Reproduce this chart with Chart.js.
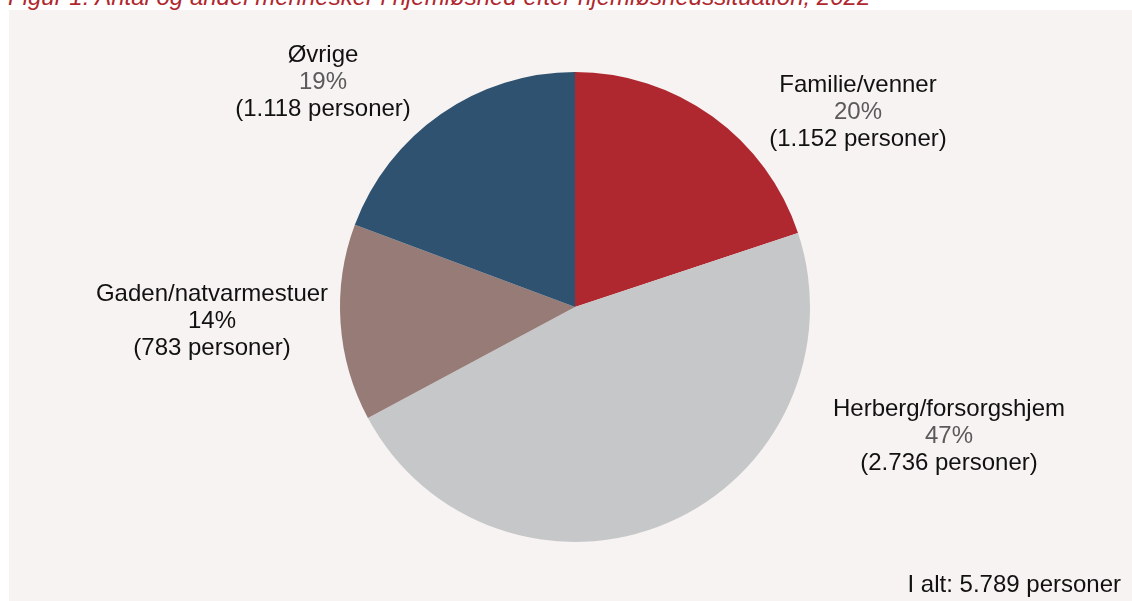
<!DOCTYPE html>
<html lang="da">
<head>
<meta charset="utf-8">
<script src="https://cdn.jsdelivr.net/npm/chart.js@4"></script>
<style>
  html, body { margin: 0; padding: 0; background: #ffffff; }
  body { width: 1132px; height: 601px; position: relative; overflow: hidden; font-family: "Liberation Sans", Arial, sans-serif; }
  .titel { position: absolute; left: 8px; top: -17px; font-size: 24px; font-style: italic; color: #b0282f; white-space: nowrap; }
  .panel { position: absolute; left: 9px; top: 10px; right: 0; bottom: 0; background: #f7f3f2; }
  #grafikCirkel { position: absolute; left: 0; top: 0; }
</style>
</head>
<body>
<div class="titel">Figur 1. Antal og andel mennesker i hjemløshed efter hjemløshedssituation, 2022</div>
<div class="panel"></div>
<canvas id="grafikCirkel" width="1132" height="601"></canvas>
<script>
// data
const kategorier = ['Familie/venner', 'Herberg/forsorgshjem', 'Gaden/natvarmestuer', 'Øvrige'];
const personer = [1152, 2736, 783, 1118];

// farver og placering af etiketter (forskydning fra centrum, i px)
const farver = ['#b0282f', '#c6c7c9', '#967b76', '#2e5270'];
const procentFarve = ['#5a5a5a', '#5a5a5a', '#111111', '#5a5a5a'];
const etiketForskydning = [[283, -195], [374, 129], [-363, 14], [-252, -225]];

function formaterTal(v) {
    return String(v).replace(/\B(?=(\d{3})+(?!\d))/g, '.');
}

const total = personer.reduce((acc, v) => acc + v, 0);

const etiketter = {
    id: 'etiketter',
    afterDraw(chart) {
        const ctx = chart.ctx;
        const arc = chart.getDatasetMeta(0).data[0];
        const cx = arc.x, cy = arc.y;
        ctx.save();
        ctx.font = '24px "Liberation Sans", Arial, sans-serif';
        ctx.textAlign = 'center';
        ctx.textBaseline = 'middle';
        kategorier.forEach((navn, i) => {
            const x = cx + etiketForskydning[i][0];
            const y = cy + etiketForskydning[i][1];
            const pct = Math.round(personer[i] / total * 100);
            ctx.fillStyle = '#111111';
            ctx.fillText(navn, x, y - 27);
            ctx.fillStyle = procentFarve[i];
            ctx.fillText(pct + '%', x, y);
            ctx.fillStyle = '#111111';
            ctx.fillText('(' + formaterTal(personer[i]) + ' personer)', x, y + 27);
        });
        ctx.textAlign = 'right';
        ctx.textBaseline = 'alphabetic';
        ctx.fillStyle = '#111111';
        ctx.fillText('I alt: ' + formaterTal(total) + ' personer', 1121, 592);
        ctx.restore();
    }
};

new Chart(document.getElementById('grafikCirkel'), {
    type: 'pie',
    data: {
        labels: kategorier,
        datasets: [{
            data: personer,
            backgroundColor: farver,
            borderWidth: 0
        }]
    },
    options: {
        responsive: false,
        animation: false,
        layout: { padding: { top: 72, bottom: 59, left: 340, right: 322 } },
        plugins: {
            legend: { display: false },
            tooltip: { enabled: false }
        }
    },
    plugins: [etiketter]
});
</script>
</body>
</html>
